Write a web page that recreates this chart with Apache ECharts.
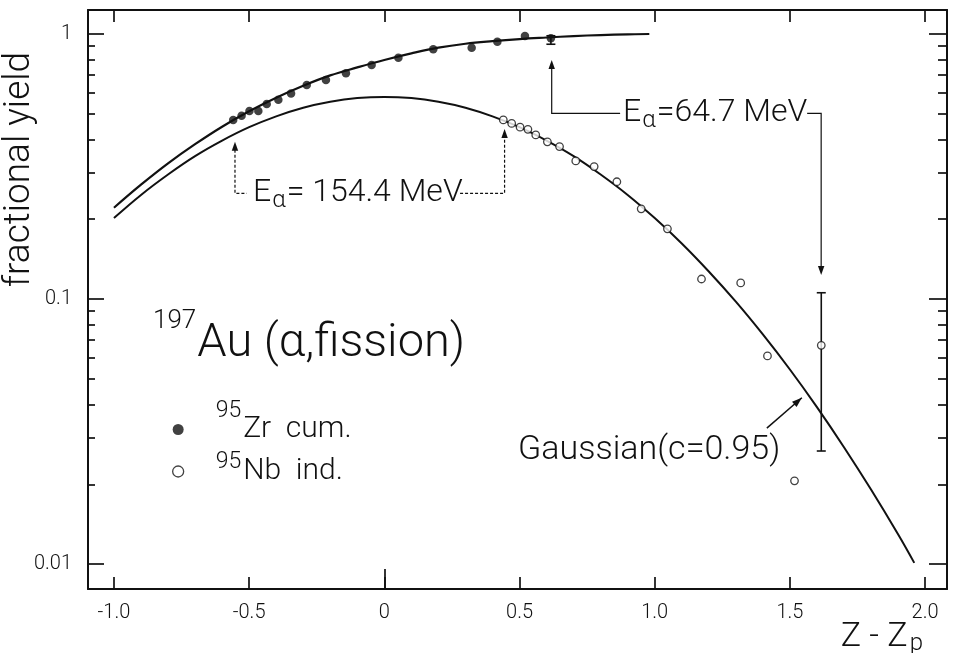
<!DOCTYPE html>
<html>
<head>
<meta charset="utf-8">
<script src="https://cdn.jsdelivr.net/npm/echarts@6/dist/echarts.min.js"></script>
<style>html,body{margin:0;padding:0;background:#fff}#c{width:953px;height:653px}</style>
</head>
<body>
<div id="c"></div>
<script>
// ---------- data ----------
const xTickValues = [-1.0, -0.5, 0, 0.5, 1.0, 1.5, 2.0];
const xTickLabels = ['-1.0', '-0.5', '0', '0.5', '1.0', '1.5', '2.0'];
const xLongTicks = [0];
const yMajorTicks = [0.01, 0.1, 1];
const yTickLabels = ['0.01', '0.1', '1'];
const yMinorTicks = [0.02, 0.03, 0.04, 0.05, 0.06, 0.07, 0.08, 0.09,
                     0.2, 0.3, 0.4, 0.5, 0.6, 0.7, 0.8, 0.9];

// Gaussian (c = 0.95) curve, independent yield
const gaussX = [-1.0, -0.9, -0.8, -0.7, -0.6, -0.5, -0.4, -0.3, -0.2, -0.1, 0.0,
                0.1, 0.2, 0.3, 0.4, 0.5, 0.6, 0.7, 0.8, 0.9, 1.0,
                1.1, 1.2, 1.3, 1.4, 1.5, 1.6, 1.7, 1.8, 1.9, 1.96];
const gaussY = [0.202, 0.247, 0.295, 0.346, 0.396, 0.445, 0.489, 0.527, 0.555, 0.573, 0.579,
                0.573, 0.555, 0.527, 0.489, 0.445, 0.396, 0.346, 0.295, 0.247, 0.202,
                0.162, 0.127, 0.0977, 0.0735, 0.0542, 0.0391, 0.0276, 0.0191, 0.01295, 0.0101];

// cumulative curve
const cumX = [-1.0, -0.9, -0.8, -0.7, -0.6, -0.5, -0.4, -0.3, -0.2, -0.1, 0.0,
              0.1, 0.2, 0.3, 0.4, 0.5, 0.6, 0.7, 0.8, 0.9, 0.98];
const cumY = [0.221, 0.270, 0.325, 0.384, 0.447, 0.511, 0.575, 0.638, 0.698, 0.748, 0.798,
              0.845, 0.888, 0.919, 0.940, 0.957, 0.970, 0.982, 0.991, 0.997, 1.0];

// 95Zr cumulative (filled)
const zrX = [-0.559, -0.528, -0.499, -0.466, -0.435, -0.392, -0.345, -0.287, -0.216, -0.142,
             -0.047, 0.052, 0.181, 0.323, 0.418, 0.520, 0.616];
const zrY = [0.474, 0.492, 0.512, 0.512, 0.544, 0.565, 0.597, 0.642, 0.671, 0.711,
             0.764, 0.814, 0.876, 0.888, 0.935, 0.983, 0.963];

// 95Nb independent (open)
const nbX = [0.440, 0.471, 0.502, 0.531, 0.560, 0.603, 0.648, 0.708, 0.776, 0.860,
             0.950, 1.047, 1.173, 1.318, 1.417, 1.517, 1.616];
const nbY = [0.474, 0.460, 0.445, 0.437, 0.416, 0.392, 0.376, 0.332, 0.316, 0.277,
             0.219, 0.184, 0.119, 0.115, 0.061, 0.0206, 0.0669];

// error bars
const errX = [0.616, 1.616];
const errLow = [0.915, 0.0267];
const errHigh = [0.985, 0.1056];

const seriesNames = ['95Zr cum.', '95Nb ind.'];

// ---------- layout / style ----------
const X_MIN = -1.096, X_MAX = 2.081;
const Y_MIN = 0.00805, Y_MAX = 1.232;
const INK = '#111';
const FONT = 'Roboto, "Liberation Sans", "DejaVu Sans", sans-serif';
const LIGHT = 300;

const chart = echarts.init(document.getElementById('c'), null, {renderer: 'canvas'});
const pairs = (xs, ys) => xs.map((x, i) => [x, ys[i]]);

function yAxisDef(position, ticks, len, withLabels, withLine, extra) {
  return Object.assign({
    type: 'log', logBase: 10, position: position, min: Y_MIN, max: Y_MAX,
    splitLine: {show: false},
    axisLine: {show: withLine, onZero: false, lineStyle: {color: INK, width: 2}},
    axisTick: {show: true, inside: true, length: len, customValues: ticks, lineStyle: {color: INK, width: 1.7}},
    axisLabel: withLabels ? {
      customValues: yMajorTicks, color: INK, fontSize: 20, fontFamily: FONT, fontWeight: LIGHT, margin: 16,
      formatter: v => {
        let best = 0;
        yMajorTicks.forEach((t, i) => { if (Math.abs(Math.log10(t) - Math.log10(v)) < Math.abs(Math.log10(yMajorTicks[best]) - Math.log10(v))) best = i; });
        return yTickLabels[best];
      }
    } : {show: false}
  }, extra || {});
}

function xAxisDef(position, ticks, len, withLabels, withLine, extra) {
  return Object.assign({
    type: 'value', position: position, min: X_MIN, max: X_MAX,
    splitLine: {show: false},
    axisLine: {show: withLine, onZero: false, lineStyle: {color: INK, width: 2}},
    axisTick: {show: true, inside: true, length: len, customValues: ticks, lineStyle: {color: INK, width: 1.7}},
    axisLabel: withLabels ? {
      customValues: xTickValues, color: INK, fontSize: 20, fontFamily: FONT, fontWeight: LIGHT, margin: 14,
      formatter: v => {
        const i = xTickValues.findIndex(t => Math.abs(t - v) < 1e-6);
        return i >= 0 ? xTickLabels[i] : '';
      }
    } : {show: false}
  }, extra || {});
}

const option = {
  animation: false,
  backgroundColor: '#fff',
  textStyle: {fontFamily: FONT},
  grid: {left: 88, right: 6, top: 10, bottom: 64, containLabel: false, outerBoundsMode: 'none'},
  legend: {
    orient: 'vertical', left: 167, top: 395, itemGap: -8,
    itemWidth: 11, itemHeight: 11,
    data: [
      {name: seriesNames[0], icon: 'circle', itemStyle: {color: INK, borderColor: INK, borderWidth: 0}},
      {name: seriesNames[1], icon: 'circle', itemStyle: {color: '#fff', borderColor: INK, borderWidth: 1.3}}
    ],
    formatter: name => name === seriesNames[0] ? '{s1|95}{t|Zr  cum.}' : '{s2|95}{t|Nb  ind.}',
    textStyle: {
      color: INK, fontFamily: FONT, fontWeight: LIGHT,
      rich: {
        t: {fontSize: 30, lineHeight: 34, fontFamily: FONT, fontWeight: LIGHT, color: INK},
        s1: {fontSize: 23, lineHeight: 23, padding: [0, 2, 36, 27], fontFamily: FONT, fontWeight: LIGHT, color: INK},
        s2: {fontSize: 23, lineHeight: 23, padding: [0, 2, 18, 27], fontFamily: FONT, fontWeight: LIGHT, color: INK}
      }
    }
  },
  xAxis: [
    xAxisDef('bottom', xTickValues, 12, true, true, {
      name: '{t|Z - Z}{s|p}', nameLocation: 'end', nameGap: 0, nameMoveOverlap: false,
      nameTextStyle: {
        align: 'right', verticalAlign: 'top', padding: [30, 24, 0, 0],
        rich: {
          t: {fontSize: 34, lineHeight: 36, fontFamily: FONT, fontWeight: LIGHT, color: INK},
          s: {fontSize: 24, lineHeight: 24, padding: [14, 0, 0, 2], fontFamily: FONT, fontWeight: LIGHT, color: INK}
        }
      }
    }),
    xAxisDef('top', xTickValues, 12, false, true),
    xAxisDef('bottom', xLongTicks, 20, false, false)
  ],
  yAxis: [
    yAxisDef('left', yMajorTicks, 16, true, true, {
      name: 'fractional yield', nameLocation: 'middle', nameGap: 50, nameMoveOverlap: false,
      nameTextStyle: {fontSize: 37, fontFamily: FONT, fontWeight: LIGHT, color: INK, padding: [0, 0, 0, 260]}
    }),
    yAxisDef('left', yMinorTicks, 7, false, false),
    yAxisDef('right', yMajorTicks, 18, false, true),
    yAxisDef('right', yMinorTicks, 9, false, false)
  ],
  series: [
    {
      name: 'Gaussian (c=0.95)', type: 'line', xAxisIndex: 0, yAxisIndex: 0,
      data: pairs(gaussX, gaussY), showSymbol: false, smooth: 0.4,
      lineStyle: {color: INK, width: 2}, z: 2, silent: true
    },
    {
      name: 'cumulative', type: 'line', xAxisIndex: 0, yAxisIndex: 0,
      data: pairs(cumX, cumY), showSymbol: false, smooth: 0.4,
      lineStyle: {color: INK, width: 2.2}, z: 2, silent: true
    },
    {
      name: 'errors', type: 'custom', xAxisIndex: 0, yAxisIndex: 0, z: 3, silent: true,
      data: errX.map((x, i) => [x, errLow[i], errHigh[i]]),
      renderItem: (params, api) => {
        const x = api.value(0);
        const hi = api.coord([x, api.value(2)]);
        const lo = api.coord([x, api.value(1)]);
        const w = 4.5;
        const st = {stroke: INK, lineWidth: 1.6};
        return {type: 'group', children: [
          {type: 'line', shape: {x1: hi[0], y1: hi[1], x2: lo[0], y2: lo[1]}, style: st},
          {type: 'line', shape: {x1: hi[0] - w, y1: hi[1], x2: hi[0] + w, y2: hi[1]}, style: st},
          {type: 'line', shape: {x1: lo[0] - w, y1: lo[1], x2: lo[0] + w, y2: lo[1]}, style: st}
        ]};
      }
    },
    {
      name: seriesNames[0], type: 'scatter', xAxisIndex: 0, yAxisIndex: 0, z: 4,
      data: pairs(zrX, zrY), symbol: 'circle', symbolSize: 8.5,
      itemStyle: {color: INK, borderColor: INK, borderWidth: 0}
    },
    {
      name: seriesNames[1], type: 'scatter', xAxisIndex: 0, yAxisIndex: 0, z: 4,
      data: pairs(nbX, nbY), symbol: 'circle', symbolSize: 7.5,
      itemStyle: {color: '#fff', borderColor: INK, borderWidth: 1.3}
    }
  ]
};
chart.setOption(option);

// ---------- annotations (placed in data coordinates) ----------
const ann154 = {leftX: -0.5524, stubEndX: -0.5091, textX: -0.4858, textEndX: 0.2801, rightX: 0.4447,
                barY: 0.2506, leftTipY: 0.3923, rightTipY: 0.438};
const ann647 = {leftX: 0.619, stubEndX: 0.872, textX: 0.883, textEndX: 1.5638, rightX: 1.6156,
                barY: 0.5022, leftTipY: 0.798, rightTipY: 0.1232};
const annGauss = {textX: 0.4946, textY: 0.02692, fromX: 1.4147, fromY: 0.03259, toX: 1.5442, toY: 0.04241};

const P = (x, y) => chart.convertToPixel({seriesIndex: 0}, [x, y]);

function arrowHead(tip, from, len, half) {
  const dx = tip[0] - from[0], dy = tip[1] - from[1];
  const d = Math.hypot(dx, dy) || 1;
  const ux = dx / d, uy = dy / d;
  const bx = tip[0] - ux * len, by = tip[1] - uy * len;
  return {type: 'polygon', silent: true, z: 10,
    shape: {points: [tip, [bx - uy * half, by + ux * half], [bx + uy * half, by - ux * half]]},
    style: {fill: INK}};
}
function poly(points, dashed, width) {
  return {type: 'polyline', silent: true, z: 10, shape: {points: points},
    style: {stroke: INK, lineWidth: width || 1.2, fill: null, lineDash: dashed ? [3, 2] : null}};
}
const eRich = {
  e: {fontSize: 32, lineHeight: 36, fontFamily: FONT, fontWeight: LIGHT, fill: INK},
  a: {fontSize: 24, lineHeight: 24, padding: [16, 1, 0, 1], fontFamily: FONT, fontWeight: LIGHT, fill: INK}
};
function label(text, at, rich, extraStyle) {
  return {type: 'text', silent: true, z: 10, x: at[0], y: at[1],
    style: Object.assign({text: text, rich: rich, align: 'left', verticalAlign: 'middle', fill: INK,
      font: LIGHT + ' 32px ' + FONT}, extraStyle || {})};
}

const els = [];
// E_alpha = 154.4 MeV
{
  const a = ann154;
  const lt = P(a.leftX, a.leftTipY), lb = P(a.leftX, a.barY), ls = P(a.stubEndX, a.barY);
  const rt = P(a.rightX, a.rightTipY), rb = P(a.rightX, a.barY), rs = P(a.textEndX, a.barY);
  const tipOff = 8;
  els.push(poly([[lt[0], lt[1] + tipOff], lb, ls], true));
  els.push(arrowHead(lt, lb, 9, 3.2));
  els.push(poly([rs, rb, [rt[0], rt[1] + tipOff]], true));
  els.push(arrowHead(rt, rb, 9, 3.2));
  els.push(label('{e|E}{a|α}{e|= 154.4 MeV}', P(a.textX, a.barY), eRich));
}
// E_alpha = 64.7 MeV
{
  const a = ann647;
  const lt = P(a.leftX, a.leftTipY), lb = P(a.leftX, a.barY), ls = P(a.stubEndX, a.barY);
  const rt = P(a.rightX, a.rightTipY), rb = P(a.rightX, a.barY), rs = P(a.textEndX, a.barY);
  const tipOff = 8;
  els.push(poly([[lt[0], lt[1] + tipOff], lb, ls], false));
  els.push(arrowHead(lt, lb, 9, 3.2));
  els.push(poly([rs, rb, [rt[0], rt[1] - tipOff]], false));
  els.push(arrowHead(rt, rb, 9, 3.2));
  els.push(label('{e|E}{a|α}{e|=64.7 MeV}', P(a.textX, a.barY), eRich));
}
// Gaussian label + arrow
{
  const a = annGauss;
  const f = P(a.fromX, a.fromY), t = P(a.toX, a.toY);
  els.push(poly([f, t], false, 1.5));
  els.push(arrowHead(t, f, 10, 3.5));
  els.push(label('Gaussian(c=0.95)', P(a.textX, a.textY), null, {font: LIGHT + ' 34px ' + FONT}));
}
// reaction title
els.push({type: 'text', silent: true, z: 10, x: 153, y: 344.5,
  style: {text: '{s|197}{t|Au (α,fission)}', align: 'left', verticalAlign: 'middle', fill: INK,
    rich: {
      s: {fontSize: 26, lineHeight: 28, padding: [0, 1, 46, 0], fontFamily: FONT, fontWeight: LIGHT, fill: INK},
      t: {fontSize: 47, lineHeight: 54, fontFamily: FONT, fontWeight: LIGHT, fill: INK}
    }}});

chart.setOption({graphic: {elements: els}});
</script>
</body>
</html>
